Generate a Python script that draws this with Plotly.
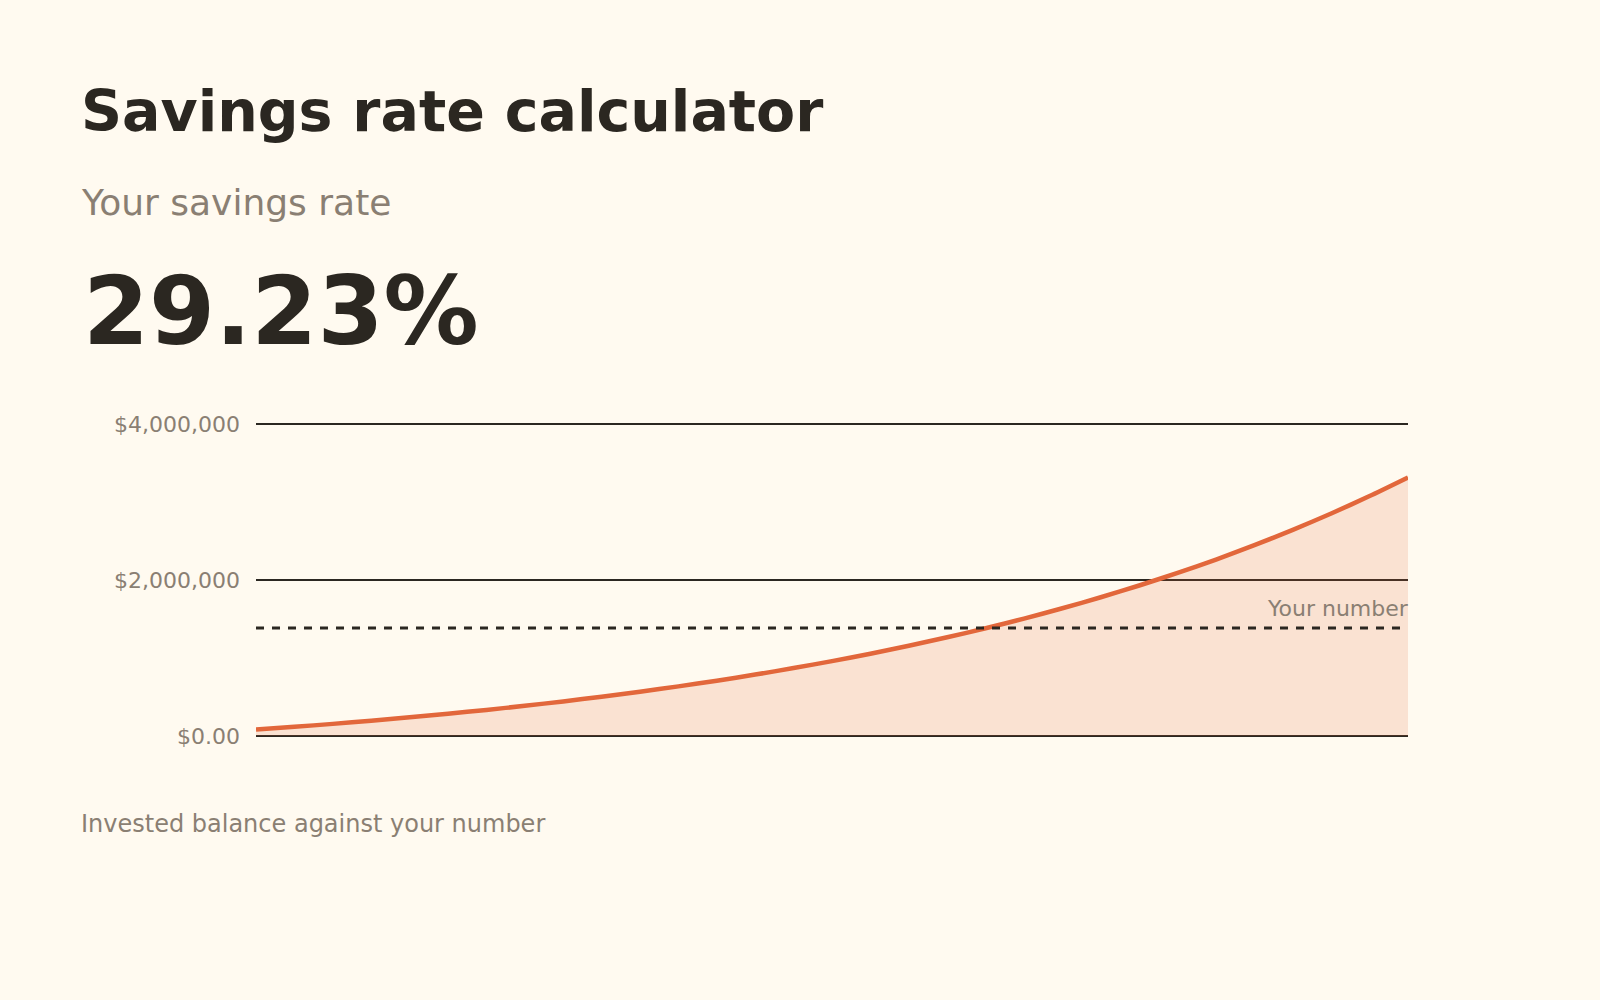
import plotly.graph_objects as go

# balance by year (dollars)
years = list(range(0, 31))
balance = [
    82000, 117500, 155400, 195900, 239100, 285300, 334600, 387300, 443600,
    503700, 567900, 636400, 709600, 787800, 871300, 960400, 1055600,
    1157300, 1265900, 1381900, 1505800, 1638100, 1779400, 1930300,
    2091400, 2263500, 2447300, 2643600, 2853200, 3077100, 3316000,
]
your_number = 1385000
savings_rate = "29.23%"

tick_vals = [0, 2000000, 4000000]
tick_text = ["$0.00", "$2,000,000", "$4,000,000"]

BG = "#fffaf0"
INK = "#2b2721"
MUTED = "#8a7f73"
ORANGE = "#e2673b"
FONT = "DejaVu Sans"

W, H = 1600, 1000
left, right, top, bottom = 256, 1408, 424, 736
y_top = 4040000  # a bit above the top tick so its gridline is drawn
top_m = bottom - (bottom - top) * y_top / 4000000


def px_x(px):
    return (px - left) / (right - left)


def px_y(px):
    return (bottom - px) / (bottom - top_m)


fig = go.Figure()

fig.add_trace(go.Scatter(
    x=years, y=balance, mode="lines",
    line=dict(color=ORANGE, width=4.5, shape="spline", smoothing=0.6),
    fill="tozeroy", fillcolor="rgba(226,103,59,0.16)",
    hoverinfo="skip", showlegend=False,
))

# "your number" target line
fig.add_trace(go.Scatter(
    x=[years[0], years[-1]], y=[your_number, your_number], mode="lines",
    line=dict(color=INK, width=3, dash="8px,8px"),
    hoverinfo="skip", showlegend=False,
))

annotations = [
    dict(text="<b>Savings rate calculator</b>", x=px_x(79), y=px_y(146),
         font=dict(size=57, color=INK)),
    dict(text="Your savings rate", x=px_x(79), y=px_y(224.5),
         font=dict(size=36, color=MUTED)),
    dict(text="<b>" + savings_rate + "</b>", x=px_x(81), y=px_y(367.7),
         font=dict(size=95, color=INK)),
    dict(text="Invested balance against your number", x=px_x(79), y=px_y(840),
         font=dict(size=24, color=MUTED)),
]
for a in annotations:
    a.update(xref="paper", yref="paper", xanchor="left", yanchor="bottom",
             showarrow=False)

annotations.append(dict(
    text="Your number", xref="paper", yref="y", x=1, y=your_number,
    xanchor="right", yanchor="bottom", yshift=5, xshift=3, showarrow=False,
    font=dict(size=22, color=MUTED),
))

fig.update_layout(
    width=W, height=H,
    margin=dict(l=left, r=W - right, t=top_m, b=H - bottom, pad=0),
    paper_bgcolor=BG, plot_bgcolor=BG,
    font=dict(family=FONT, color=INK),
    annotations=annotations,
    xaxis=dict(range=[years[0], years[-1]], visible=False, fixedrange=True),
    yaxis=dict(
        range=[0, y_top], tickvals=tick_vals, ticktext=tick_text,
        showgrid=True, gridcolor=INK, gridwidth=2,
        zeroline=True, zerolinecolor=INK, zerolinewidth=2,
        showline=False, ticks="", ticklabelstandoff=15,
        tickfont=dict(size=22, color=MUTED, family=FONT),
        fixedrange=True,
    ),
)

# drop the page margin so the figure fills the window
page_js = ("document.body.style.margin='0';"
           "document.body.style.background='" + BG + "';")
fig.write_html("out.html", post_script=page_js,
               config={"displayModeBar": False})
